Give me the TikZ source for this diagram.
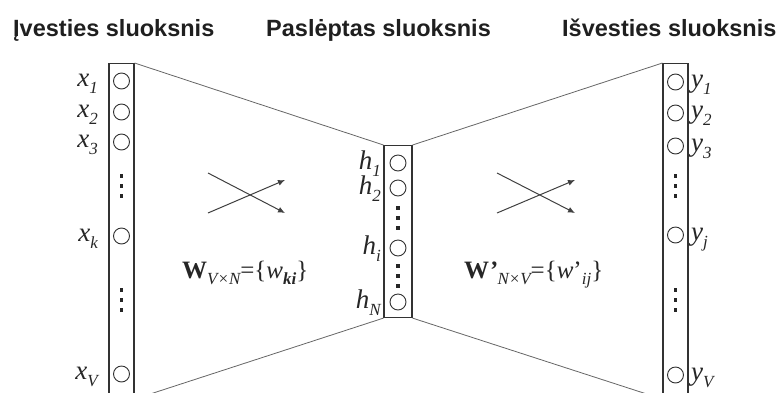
\documentclass[tikz,border=0pt]{standalone}
\usepackage{fontspec}
\setmainfont{Liberation Serif}
\newfontfamily\headfont{Liberation Sans}
\usetikzlibrary{arrows.meta}
\newcommand{\lbsub}[1]{\raisebox{-0.26em}{\fontsize{17}{17}\selectfont\itshape #1}}
\begin{document}
\begin{tikzpicture}[x=1pt,y=-1pt,
  layer/.style={draw=black!80, line width=1.1pt, minimum width=25pt, inner sep=0pt, anchor=north},
  unit/.style={circle, draw=black!80, line width=0.9pt, minimum size=16pt, inner sep=0pt},
  link/.style={draw=black!60, line width=0.8pt},
  lbl/.style={font=\fontsize{27}{27}\selectfont\itshape, inner sep=0pt, text=black!85},
  wlbl/.style={font=\fontsize{25}{25}\selectfont, inner sep=0pt, anchor=base west, text=black!85},
  head/.style={font=\headfont\bfseries\fontsize{23.5}{23.5}\selectfont, inner sep=0pt, anchor=base west, text=black!88},
  dotsq/.style={rectangle, fill=black!85, minimum size=3.2pt, inner sep=0pt},
  cross/.style={draw=black!75, line width=1pt, -{Latex[length=7pt,width=6pt]}}]
\useasboundingbox (0,0) rectangle (780,392);
\clip (0,0) rectangle (780,392);
% headings
\node[head] (t1) at (13,36) {Įvesties sluoksnis};
\node[head] (t2) at (266,36) {Paslėptas sluoksnis};
\node[head] (t3) at (562,36) {Išvesties sluoksnis};
% layers
\node[layer, minimum height=335pt] (L) at (121.5,63) {};
\node[layer, minimum width=28pt, minimum height=172pt] (H) at (398,145) {};
\node[layer, minimum height=335pt] (R) at (675.5,63) {};
% connectors
\draw[link] (L.north east) -- (H.north west);
\draw[link] (L.south east) -- (H.south west);
\draw[link] (H.north east) -- (R.north west);
\draw[link] (H.south east) -- (R.south west);
% input units
\foreach \n/\y in {1/81,2/112,3/142,k/236,V/374}{
  \node[unit] (x\n) at (121.5,\y) {};
  \node[lbl, anchor=base east] (xl\n) at (98,{\y+5}) {x\lbsub{\n}};
}
% hidden units
\foreach \n/\y in {1/163,2/188,i/248,N/302}{
  \node[unit] (h\n) at (398,\y) {};
  \node[lbl, anchor=base east] (hl\n) at (381,{\y+6}) {h\lbsub{\n}};
}
% output units
\foreach \n/\y in {1/82,2/113,3/146,j/235,V/375}{
  \node[unit] (y\n) at (675.5,\y) {};
  \node[lbl, anchor=base west] (yl\n) at (691,{\y+5}) {y\lbsub{\n}};
}
% vertical dots
\foreach \g/\x/\y in {a/121.5/186, b/121.5/300, c/398/218, d/398/276, e/675.5/186, f/675.5/300}{
  \foreach \k/\dy in {1/-10,2/0,3/10}{
    \node[dotsq] (dot\g\k) at (\x,{\y+\dy}) {};
  }
}
% crossing arrows
\coordinate (a1s) at (208,173); \coordinate (a1e) at (285,213);
\coordinate (a2s) at (208,213); \coordinate (a2e) at (285,180);
\coordinate (b1s) at (497,173); \coordinate (b1e) at (575,213);
\coordinate (b2s) at (497,213); \coordinate (b2e) at (575,180);
\draw[cross] (a1s) -- (a1e);
\draw[cross] (a2s) -- (a2e);
\draw[cross] (b1s) -- (b1e);
\draw[cross] (b2s) -- (b2e);
% weight labels
\node[wlbl] (W1) at (182,278) {\textbf{W}\lbsub{V×N}=\{\textit{w}\lbsub{\bfseries ki}\}};
\node[wlbl] (W2) at (464,278) {\textbf{W}\textit{\textbf{'}}\lbsub{N×V}=\{\textit{w}'\lbsub{ij}\}};
\end{tikzpicture}
\end{document}
